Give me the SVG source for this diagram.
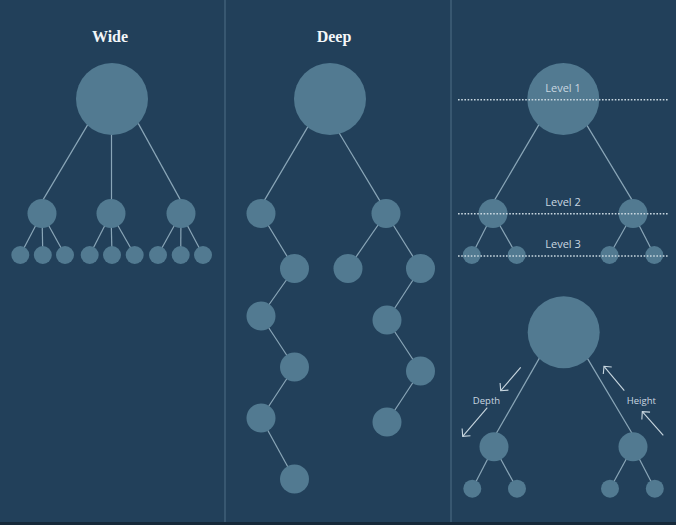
<svg xmlns="http://www.w3.org/2000/svg" width="676" height="525" viewBox="0 0 676 525">
<style>
.bg{fill:#22405a}
.n{fill:#527a91}
.e{stroke:#8aa6b8;stroke-width:1.2;fill:none}
.div{stroke:#4f6f86;stroke-width:1}
.title{font-family:"Liberation Serif",serif;font-size:16px;font-weight:bold;fill:#f3f6f8;text-anchor:middle}
.lvl{font-family:"Open Sans","Noto Sans",sans-serif;font-size:11px;fill:#c9d7e0;text-anchor:middle}
.lab{font-family:"Open Sans","Noto Sans",sans-serif;font-size:9.5px;fill:#c9d7e0;text-anchor:middle}
.dot{stroke:#c9d7e0;stroke-width:1.5;stroke-dasharray:1.6 1.6;fill:none}
.arr{stroke:#c9d7e0;stroke-width:1.1;fill:none;marker-end:url(#chev)}
</style>
<defs>
<marker id="chev" markerUnits="userSpaceOnUse" viewBox="-8 -7 10 14" refX="0" refY="0" markerWidth="10" markerHeight="14" orient="auto">
<path d="M-5.5,-5.5 L0,0 L-5.5,5.5" stroke="#c9d7e0" stroke-width="1.1" fill="none"/>
</marker>
</defs>
<rect class="bg" x="0" y="0" width="676" height="525"/>
<rect x="0" y="522" width="676" height="3" fill="#16293a"/>
<line class="div" x1="225" y1="0" x2="225" y2="522"/>
<line class="div" x1="451" y1="0" x2="451" y2="522"/>

<text class="title" x="110" y="42">Wide</text>
<text class="title" x="334" y="42">Deep</text>

<g id="connectors">
<!-- wide -->
<line class="e" x1="88.5" y1="123.4" x2="41.8" y2="201.9"/>
<line class="e" x1="111.5" y1="130" x2="111.5" y2="202"/>
<line class="e" x1="138.2" y1="123.4" x2="181.5" y2="201.9"/>
<line class="e" x1="42" y1="213.5" x2="20.3" y2="255"/>
<line class="e" x1="42" y1="213.5" x2="42.8" y2="255"/>
<line class="e" x1="42" y1="213.5" x2="65" y2="255"/>
<line class="e" x1="111" y1="213.5" x2="89.7" y2="255"/>
<line class="e" x1="111" y1="213.5" x2="112" y2="255"/>
<line class="e" x1="111" y1="213.5" x2="134.7" y2="255"/>
<line class="e" x1="181" y1="213.5" x2="158" y2="255"/>
<line class="e" x1="181" y1="213.5" x2="180.7" y2="255"/>
<line class="e" x1="181" y1="213.5" x2="203" y2="255"/>
<!-- deep -->
<line class="e" x1="308.8" y1="125.1" x2="263.5" y2="201.9"/>
<line class="e" x1="337.8" y1="130.7" x2="380.5" y2="201.9"/>
<line class="e" x1="261" y1="213.5" x2="294.5" y2="268.5"/>
<line class="e" x1="294.5" y1="268.5" x2="261" y2="316"/>
<line class="e" x1="261" y1="316" x2="294.5" y2="367"/>
<line class="e" x1="294.5" y1="367" x2="261" y2="418"/>
<line class="e" x1="261" y1="418" x2="294.5" y2="479"/>
<line class="e" x1="386" y1="213.5" x2="348" y2="268.5"/>
<line class="e" x1="386" y1="213.5" x2="420.5" y2="268.5"/>
<line class="e" x1="420.5" y1="268.5" x2="387" y2="320"/>
<line class="e" x1="387" y1="320" x2="420.5" y2="371"/>
<line class="e" x1="420.5" y1="371" x2="387" y2="422"/>
<!-- levels tree -->
<line class="e" x1="539.8" y1="123.1" x2="493.5" y2="201.9"/>
<line class="e" x1="586.2" y1="124.1" x2="633.2" y2="201.9"/>
<line class="e" x1="493" y1="213.5" x2="471.8" y2="255"/>
<line class="e" x1="493" y1="213.5" x2="516.7" y2="255"/>
<line class="e" x1="633" y1="213.5" x2="609.5" y2="255"/>
<line class="e" x1="633" y1="213.5" x2="654.3" y2="255"/>
<!-- depth/height tree -->
<line class="e" x1="539.8" y1="357.4" x2="495.2" y2="435.3"/>
<line class="e" x1="586.8" y1="357.4" x2="633.2" y2="435.3"/>
<line class="e" x1="494" y1="446.7" x2="472.3" y2="488.7"/>
<line class="e" x1="494" y1="446.7" x2="517" y2="488.7"/>
<line class="e" x1="633" y1="446.7" x2="610" y2="488.7"/>
<line class="e" x1="633" y1="446.7" x2="654.8" y2="488.7"/>
</g>

<g id="wide-root"><circle class="n" cx="112" cy="99" r="36"/></g>
<g id="wide-a"><circle class="n" cx="42" cy="213.5" r="14.5"/></g>
<g id="wide-b"><circle class="n" cx="111" cy="213.5" r="14.5"/></g>
<g id="wide-c"><circle class="n" cx="181" cy="213.5" r="14.5"/></g>
<g id="wide-a1"><circle class="n" cx="20.3" cy="255" r="9"/></g>
<g id="wide-a2"><circle class="n" cx="42.8" cy="255" r="9"/></g>
<g id="wide-a3"><circle class="n" cx="65" cy="255" r="9"/></g>
<g id="wide-b1"><circle class="n" cx="89.7" cy="255" r="9"/></g>
<g id="wide-b2"><circle class="n" cx="112" cy="255" r="9"/></g>
<g id="wide-b3"><circle class="n" cx="134.7" cy="255" r="9"/></g>
<g id="wide-c1"><circle class="n" cx="158" cy="255" r="9"/></g>
<g id="wide-c2"><circle class="n" cx="180.7" cy="255" r="9"/></g>
<g id="wide-c3"><circle class="n" cx="203" cy="255" r="9"/></g>

<g id="deep-root"><circle class="n" cx="330" cy="99" r="36"/></g>
<g id="deep-l1"><circle class="n" cx="261" cy="213.5" r="14.5"/></g>
<g id="deep-l2"><circle class="n" cx="294.5" cy="268.5" r="14.5"/></g>
<g id="deep-l3"><circle class="n" cx="261" cy="316" r="14.5"/></g>
<g id="deep-l4"><circle class="n" cx="294.5" cy="367" r="14.5"/></g>
<g id="deep-l5"><circle class="n" cx="261" cy="418" r="14.5"/></g>
<g id="deep-l6"><circle class="n" cx="294.5" cy="479" r="14.5"/></g>
<g id="deep-r1"><circle class="n" cx="386" cy="213.5" r="14.5"/></g>
<g id="deep-r2a"><circle class="n" cx="348" cy="268.5" r="14.5"/></g>
<g id="deep-r2"><circle class="n" cx="420.5" cy="268.5" r="14.5"/></g>
<g id="deep-r3"><circle class="n" cx="387" cy="320" r="14.5"/></g>
<g id="deep-r4"><circle class="n" cx="420.5" cy="371" r="14.5"/></g>
<g id="deep-r5"><circle class="n" cx="387" cy="422" r="14.5"/></g>

<g id="lv-root"><circle class="n" cx="563.3" cy="99" r="36"/></g>
<g id="lv-a"><circle class="n" cx="493" cy="213.5" r="14.5"/></g>
<g id="lv-b"><circle class="n" cx="633" cy="213.5" r="14.5"/></g>
<g id="lv-a1"><circle class="n" cx="471.8" cy="255" r="9"/></g>
<g id="lv-a2"><circle class="n" cx="516.7" cy="255" r="9"/></g>
<g id="lv-b1"><circle class="n" cx="609.5" cy="255" r="9"/></g>
<g id="lv-b2"><circle class="n" cx="654.3" cy="255" r="9"/></g>

<g id="levels">
<text class="lvl" x="563" y="92">Level 1</text>
<line class="dot" x1="458" y1="99.7" x2="668" y2="99.7"/>
<text class="lvl" x="563" y="206">Level 2</text>
<line class="dot" x1="458" y1="213.7" x2="668" y2="213.7"/>
<text class="lvl" x="563" y="248">Level 3</text>
<line class="dot" x1="458" y1="256" x2="668" y2="256"/>
</g>

<g id="dh-root"><circle class="n" cx="563.7" cy="332.3" r="36"/></g>
<g id="dh-a"><circle class="n" cx="494" cy="446.7" r="14.5"/></g>
<g id="dh-b"><circle class="n" cx="633" cy="446.7" r="14.5"/></g>
<g id="dh-a1"><circle class="n" cx="472.3" cy="488.7" r="9"/></g>
<g id="dh-a2"><circle class="n" cx="517" cy="488.7" r="9"/></g>
<g id="dh-b1"><circle class="n" cx="610" cy="488.7" r="9"/></g>
<g id="dh-b2"><circle class="n" cx="654.8" cy="488.7" r="9"/></g>

<g id="depth">
<text class="lab" x="486.5" y="403.5">Depth</text>
<line class="arr" x1="520.7" y1="367.3" x2="500.7" y2="390.7"/>
<line class="arr" x1="487.3" y1="407.7" x2="462.7" y2="436.3"/>
</g>
<g id="height">
<text class="lab" x="641.3" y="404">Height</text>
<line class="arr" x1="624.3" y1="390.7" x2="604" y2="366.3"/>
<line class="arr" x1="663.3" y1="435.3" x2="642.3" y2="411.7"/>
</g>
</svg>
